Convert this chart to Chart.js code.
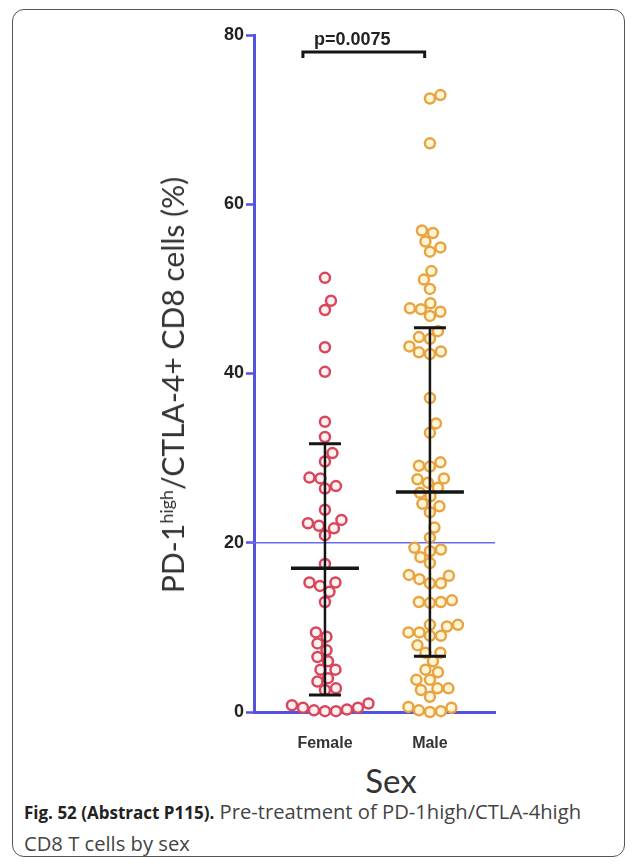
<!DOCTYPE html>
<html>
<head>
<meta charset="utf-8">
<script src="https://cdn.jsdelivr.net/npm/chart.js@4.4.1/dist/chart.umd.min.js"></script>
<style>
  body { margin: 0; width: 637px; height: 864px; background: #fff; position: relative; overflow: hidden; }
  #frame { position: absolute; left: 12px; top: 9px; width: 611px; height: 846px; border: 1.5px solid #555; border-radius: 12px; }
  #wrap { position: absolute; left: 0; top: 0; width: 637px; height: 760px; }
  #ytitle { position: absolute; left: 172px; top: 385px; transform: translate(-50%, -50%) rotate(-90deg);
            white-space: nowrap; font: 30px Lato; color: #333; }
  #ytitle sup { font-size: 18px; }
  #xtitle { position: absolute; left: 391px; top: 780px; transform: translate(-50%, -50%); font: 33px Lato; color: #333; }
  #caption { position: absolute; left: 24px; top: 796px; font: 20.2px "Open Sans"; line-height: 30px; color: #444; }
  #caption b { color: #222; font-size: 17px; }
</style>
</head>
<body>
<div id="frame"></div>
<div id="wrap"><canvas id="myChart"></canvas></div>
<div id="ytitle">PD-1<sup>high</sup>/CTLA-4+ CD8 cells (%)</div>
<div id="xtitle">Sex</div>
<div id="caption"><b>Fig. 52 (Abstract P115).</b> Pre-treatment of PD-1high/CTLA-4high<br>CD8 T cells by sex</div>
<script>
const groups = ['Female', 'Male'];
const femaleValues = [51.3, 48.6, 47.5, 43.1, 40.2, 34.3, 32.5, 30.6, 29.6, 27.6, 27.7, 26.4, 26.7,
  23.9, 22.7, 22.0, 22.3, 21.7, 20.9, 17.5, 15.3, 15.3, 14.9, 14.2, 13.0, 9.4, 8.9, 8.1, 7.3, 6.5,
  6.0, 5.0, 5.0, 4.0, 3.6, 2.8, 2.6, 0.5, 0.8, 1.0, 0.5, 0.1, 0.2, 0.1, 0.3];
const maleValues = [72.5, 72.9, 67.2, 56.6, 56.9, 55.6, 54.9, 54.4, 52.1, 51.1, 50.0, 48.3, 47.6,
  46.8, 47.3, 47.7, 45.0, 44.1, 44.3, 42.5, 43.2, 42.3, 42.6, 37.1, 34.1, 33.0, 29.0, 29.1, 29.5,
  27.6, 27.1, 27.5, 25.5, 25.9, 26.5, 24.3, 24.6, 23.6, 21.8, 20.6, 19.2, 19.0, 19.4, 18.3, 17.6,
  16.1, 15.7, 16.2, 15.2, 15.2, 13.0, 13.2, 12.9, 13.0, 10.3, 10.1, 10.3, 9.4, 9.4, 9.0, 9.0, 7.9,
  7.0, 7.0, 6.0, 5.0, 4.7, 3.8, 3.8, 2.8, 2.8, 1.8, 2.6, 0.5, 0.0, 0.2, 0.6, 0.1];
const groupMeans = [17.0, 26.0];
const sdLower = [2.0, 6.6];
const sdUpper = [31.7, 45.4];
const yTicks = [0, 20, 40, 60, 80];
const refLine = 20;
const pValue = 'p=0.0075';

const blue = '#5353dc';

// spread points sideways so they don't sit on top of each other (beeswarm)
const swarm = {
  id: 'swarm',
  afterDatasetsUpdate(chart) {
    const gap = 11;
    chart.data.datasets.forEach((ds, di) => {
      const pts = chart.getDatasetMeta(di).data.slice().sort((a, b) => b.y - a.y);
      const placed = [];
      pts.forEach((p, j) => {
        const cx = p.x;
        const sign = j % 2 ? 1 : -1;
        for (let k = 0; k < 400; k++) {
          const off = (k % 2 ? sign : -sign) * Math.ceil(k / 2) * 0.5;
          const nx = cx + off;
          const hit = placed.some(q => (q.x - nx) ** 2 + (q.y - p.y) ** 2 < gap * gap);
          if (!hit) { p.x = nx; break; }
        }
        placed.push(p);
      });
    });
  }
};

const refLinePlugin = {
  id: 'refLine',
  beforeDatasetsDraw(chart) {
    const {ctx, chartArea, scales: {y}} = chart;
    const py = y.getPixelForValue(refLine);
    ctx.save();
    ctx.strokeStyle = '#6a6af2';
    ctx.lineWidth = 1.5;
    ctx.beginPath();
    ctx.moveTo(chartArea.left - 4, py);
    ctx.lineTo(chartArea.right, py);
    ctx.stroke();
    ctx.restore();
  }
};

const errorBars = {
  id: 'errorBars',
  afterDatasetsDraw(chart) {
    const {ctx, scales: {x, y}} = chart;
    ctx.save();
    ctx.strokeStyle = '#151515';
    groups.forEach((g, i) => {
      const px = x.getPixelForValue(i + 1);
      const top = y.getPixelForValue(sdUpper[i]);
      const bot = y.getPixelForValue(sdLower[i]);
      const mid = y.getPixelForValue(groupMeans[i]);
      ctx.lineWidth = 2.5;
      ctx.beginPath();
      ctx.moveTo(px, top); ctx.lineTo(px, bot);
      ctx.stroke();
      ctx.lineWidth = 3;
      ctx.beginPath();
      ctx.moveTo(px - 16, top); ctx.lineTo(px + 16, top);
      ctx.moveTo(px - 16, bot); ctx.lineTo(px + 16, bot);
      ctx.stroke();
      ctx.lineWidth = 3.5;
      ctx.beginPath();
      ctx.moveTo(px - 34, mid); ctx.lineTo(px + 34, mid);
      ctx.stroke();
    });
    ctx.restore();
  }
};

const bracket = {
  id: 'bracket',
  afterDraw(chart) {
    const {ctx, scales: {x, y}} = chart;
    const x1 = x.getPixelForValue(0.79), x2 = x.getPixelForValue(1.95);
    const py = y.getPixelForValue(78.0);
    ctx.save();
    ctx.strokeStyle = '#151515';
    ctx.lineWidth = 3;
    ctx.beginPath();
    ctx.moveTo(x1, py + 6); ctx.lineTo(x1, py); ctx.lineTo(x2, py); ctx.lineTo(x2, py + 6);
    ctx.stroke();
    ctx.fillStyle = '#222';
    ctx.font = 'bold 18px "Liberation Sans"';
    ctx.textAlign = 'center';
    ctx.textBaseline = 'bottom';
    ctx.fillText(pValue, x.getPixelForValue(1.26), py - 3);
    ctx.restore();
  }
};

function chart() {
  let ctx = document.getElementById('myChart').getContext('2d');
  new Chart(ctx, {
    type: 'scatter',
    data: {
      datasets: [{
        label: groups[0],
        data: femaleValues.map(v => ({x: 1, y: v})),
        borderColor: '#d8475c',
        backgroundColor: '#fdf1f1',
        pointRadius: 5,
        borderWidth: 2.5,
        clip: false
      }, {
        label: groups[1],
        data: maleValues.map(v => ({x: 2, y: v})),
        borderColor: '#e8a444',
        backgroundColor: '#fff6d6',
        pointRadius: 5,
        borderWidth: 2.5,
        clip: false
      }]
    },
    options: {
      responsive: true,
      maintainAspectRatio: false,
      animation: false,
      layout: { padding: { top: 35, right: 142, bottom: 0, left: 0 } },
      plugins: { legend: { display: false }, tooltip: { enabled: false } },
      scales: {
        x: {
          type: 'linear',
          min: 0.324,
          max: 2.62,
          afterFit: (s) => { s.height = 48; },
          afterBuildTicks: (s) => { s.ticks = groups.map((g, i) => ({value: i + 1})); },
          ticks: {
            callback: (v) => groups[v - 1],
            padding: 14,
            color: '#333',
            font: { family: 'Liberation Sans', size: 16, weight: 'bold' }
          },
          grid: { display: false },
          border: { display: true, color: blue, width: 3 }
        },
        y: {
          min: 0,
          max: 80,
          afterFit: (s) => { s.width = 254; },
          afterBuildTicks: (s) => { s.ticks = yTicks.map(v => ({value: v})); },
          ticks: {
            padding: 2,
            color: '#222',
            font: { family: 'Liberation Sans', size: 18, weight: 'bold' }
          },
          grid: { drawOnChartArea: false, tickLength: 8, tickColor: blue, tickWidth: 2.5 },
          border: { display: true, color: blue, width: 3 }
        }
      }
    },
    plugins: [swarm, refLinePlugin, errorBars, bracket]
  });
}

chart();
</script>
</body>
</html>
